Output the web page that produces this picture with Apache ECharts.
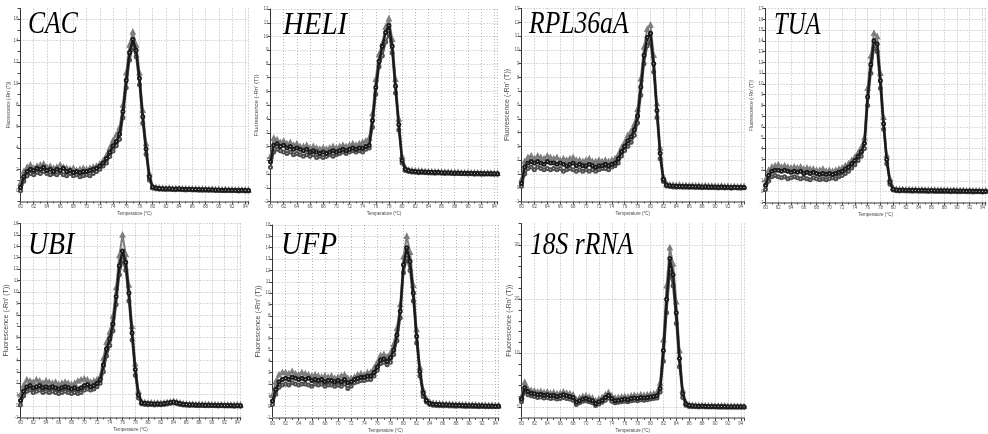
<!DOCTYPE html>
<html>
<head>
<meta charset="utf-8">
<script src="https://cdn.jsdelivr.net/npm/echarts@6/dist/echarts.min.js"></script>
<style>
  html, body { margin: 0; padding: 0; background: #fff; }
  #chart { width: 988px; height: 434px; }
</style>
</head>
<body>
<div id="chart"></div>
<script>
// Melt-curve derivative readings, three replicate wells per gene, sampled every 0.5 °C
const temps = [
  60, 60.5, 61, 61.5, 62, 62.5, 63, 63.5, 64, 64.5,
  65, 65.5, 66, 66.5, 67, 67.5, 68, 68.5, 69, 69.5,
  70, 70.5, 71, 71.5, 72, 72.5, 73, 73.5, 74, 74.5,
  75, 75.5, 76, 76.5, 77, 77.5, 78, 78.5, 79, 79.5,
  80, 80.5, 81, 81.5, 82, 82.5, 83, 83.5, 84, 84.5,
  85, 85.5, 86, 86.5, 87, 87.5, 88, 88.5, 89, 89.5,
  90, 90.5, 91, 91.5, 92, 92.5, 93, 93.5, 94, 94.5
];

const cacMid = [
  0.3, 1.3, 1.8, 2.0, 1.9, 2.1, 2.0, 2.2, 1.9, 2.0,
  1.8, 2.0, 1.9, 2.1, 1.8, 1.9, 1.7, 1.8, 1.7, 1.8,
  1.8, 1.9, 2.0, 2.1, 2.3, 2.6, 3.0, 3.6, 4.2, 4.6,
  5.3, 7.4, 10.3, 12.9, 14.1, 13.1, 10.5, 6.9, 3.9, 1.3,
  0.35, 0.25, 0.22, 0.2, 0.18, 0.2, 0.17, 0.16, 0.18, 0.15,
  0.14, 0.15, 0.12, 0.13, 0.12, 0.1, 0.11, 0.09, 0.1, 0.08,
  0.07, 0.06, 0.08, 0.05, 0.04, 0.05, 0.03, 0.04, 0.02, 0.03
];
const cacHigh = [
  0.7, 1.8, 2.2, 2.4, 2.1, 2.3, 2.4, 2.5, 2.2, 2.3,
  2.1, 2.2, 2.4, 2.2, 2.1, 2.0, 2.1, 1.9, 2.0, 2.1,
  2.0, 2.1, 2.2, 2.3, 2.5, 2.8, 3.3, 4.0, 4.7, 5.2,
  5.9, 8.0, 11.0, 13.6, 14.8, 13.6, 11.0, 7.5, 4.4, 1.6,
  0.4, 0.3, 0.26, 0.24, 0.22, 0.23, 0.2, 0.21, 0.19, 0.2,
  0.18, 0.17, 0.18, 0.16, 0.15, 0.16, 0.14, 0.13, 0.14, 0.12,
  0.12, 0.1, 0.11, 0.09, 0.1, 0.08, 0.09, 0.07, 0.08, 0.07
];
const cacLow = [
  0.0, 0.9, 1.4, 1.6, 1.5, 1.7, 1.6, 1.8, 1.6, 1.5,
  1.6, 1.5, 1.7, 1.5, 1.4, 1.6, 1.4, 1.5, 1.3, 1.4,
  1.5, 1.4, 1.6, 1.8, 2.0, 2.3, 2.6, 3.2, 3.7, 4.2,
  4.8, 6.8, 9.6, 12.2, 13.4, 12.5, 9.9, 6.3, 3.4, 1.0,
  0.25, 0.18, 0.15, 0.14, 0.12, 0.14, 0.11, 0.1, 0.12, 0.09,
  0.08, 0.09, 0.07, 0.08, 0.06, 0.05, 0.06, 0.04, 0.05, 0.03,
  0.02, 0.03, 0.01, 0.02, 0.0, 0.01, -0.01, 0.0, -0.02, -0.01
];

const heliMid = [
  0.9, 2.1, 2.2, 2.0, 2.1, 1.9, 2.0, 1.8, 1.9, 1.8,
  1.7, 1.8, 1.6, 1.7, 1.6, 1.5, 1.6, 1.5, 1.6, 1.7,
  1.6, 1.7, 1.8, 1.7, 1.8, 1.9, 1.8, 1.9, 1.9, 2.0,
  2.1, 3.9, 6.3, 8.2, 9.3, 10.3, 10.8, 9.3, 6.4, 3.6,
  1.0, 0.35, 0.25, 0.2, 0.18, 0.15, 0.16, 0.14, 0.13, 0.12,
  0.11, 0.12, 0.1, 0.09, 0.1, 0.08, 0.07, 0.08, 0.06, 0.05,
  0.06, 0.05, 0.04, 0.05, 0.03, 0.04, 0.02, 0.03, 0.02, 0.01
];
const heliHigh = [
  1.3, 2.6, 2.5, 2.3, 2.4, 2.2, 2.3, 2.1, 2.2, 2.0,
  2.0, 2.1, 1.9, 2.0, 1.9, 1.8, 1.9, 1.8, 1.9, 2.0,
  1.9, 2.0, 2.1, 2.0, 2.1, 2.2, 2.1, 2.2, 2.3, 2.4,
  2.6, 4.4, 6.9, 8.7, 9.5, 10.7, 11.3, 9.8, 6.9, 4.0,
  1.3, 0.45, 0.3, 0.26, 0.24, 0.22, 0.2, 0.19, 0.18, 0.17,
  0.16, 0.15, 0.14, 0.14, 0.13, 0.12, 0.11, 0.12, 0.1, 0.09,
  0.1, 0.08, 0.09, 0.07, 0.08, 0.06, 0.07, 0.05, 0.06, 0.05
];
const heliLow = [
  0.5, 1.6, 1.8, 1.7, 1.6, 1.5, 1.6, 1.4, 1.5, 1.4,
  1.3, 1.4, 1.3, 1.4, 1.2, 1.3, 1.2, 1.3, 1.4, 1.3,
  1.4, 1.5, 1.6, 1.5, 1.6, 1.7, 1.6, 1.7, 1.6, 1.8,
  1.9, 3.4, 5.8, 7.8, 8.6, 9.6, 10.2, 8.8, 5.9, 3.2,
  0.8, 0.25, 0.18, 0.14, 0.12, 0.1, 0.11, 0.09, 0.08, 0.07,
  0.06, 0.07, 0.05, 0.04, 0.05, 0.03, 0.02, 0.03, 0.01, 0.02,
  0.0, 0.01, -0.01, 0.0, -0.02, -0.01, 0.0, -0.02, -0.01, -0.02
];

const rplMid = [
  0.3, 1.5, 1.8, 1.9, 1.8, 1.9, 1.8, 1.7, 1.9, 1.8,
  1.8, 1.7, 1.8, 1.7, 1.6, 1.7, 1.8, 1.6, 1.7, 1.6,
  1.6, 1.7, 1.6, 1.5, 1.6, 1.6, 1.7, 1.6, 1.7, 1.8,
  2.1, 2.6, 3.0, 3.4, 3.7, 4.2, 5.2, 7.3, 9.6, 10.9,
  11.2, 9.0, 5.6, 2.5, 0.6, 0.2, 0.15, 0.12, 0.1, 0.11,
  0.09, 0.1, 0.08, 0.09, 0.07, 0.08, 0.06, 0.07, 0.05, 0.06,
  0.05, 0.04, 0.05, 0.03, 0.04, 0.02, 0.03, 0.02, 0.03, 0.02
];
const rplHigh = [
  0.6, 1.9, 2.2, 2.3, 2.1, 2.3, 2.2, 2.1, 2.3, 2.2,
  2.1, 2.2, 2.0, 2.1, 2.0, 2.1, 2.2, 2.0, 2.0, 1.9,
  2.0, 2.1, 1.9, 1.9, 2.0, 1.9, 2.0, 1.9, 2.0, 2.1,
  2.4, 2.9, 3.3, 3.8, 4.1, 4.6, 5.7, 7.9, 10.2, 11.5,
  11.8, 9.6, 6.1, 2.9, 0.8, 0.3, 0.22, 0.2, 0.18, 0.19,
  0.16, 0.17, 0.15, 0.16, 0.14, 0.15, 0.13, 0.14, 0.12, 0.13,
  0.11, 0.1, 0.12, 0.09, 0.1, 0.08, 0.09, 0.07, 0.08, 0.09
];
const rplLow = [
  0.1, 1.0, 1.4, 1.5, 1.3, 1.5, 1.4, 1.3, 1.4, 1.3,
  1.4, 1.3, 1.4, 1.2, 1.3, 1.4, 1.3, 1.2, 1.3, 1.2,
  1.3, 1.2, 1.3, 1.2, 1.3, 1.4, 1.4, 1.3, 1.5, 1.6,
  1.8, 2.3, 2.7, 3.0, 3.3, 3.8, 4.7, 6.7, 9.0, 10.3,
  10.6, 8.4, 5.1, 2.1, 0.45, 0.12, 0.08, 0.05, 0.04, 0.05,
  0.03, 0.04, 0.02, 0.03, 0.01, 0.02, 0.0, 0.01, -0.01, 0.0,
  -0.01, -0.02, 0.0, -0.02, -0.01, -0.03, -0.01, -0.02, -0.03, -0.01
];

const tuaMid = [
  0.6, 1.5, 1.9, 2.0, 2.0, 1.9, 2.0, 1.9, 1.8, 1.9,
  1.8, 1.9, 1.7, 1.8, 1.7, 1.8, 1.7, 1.6, 1.7, 1.6,
  1.7, 1.6, 1.7, 1.8, 1.9, 2.1, 2.3, 2.6, 2.9, 3.3,
  3.7, 4.5, 8.8, 11.8, 14.0, 13.7, 10.3, 6.3, 3.0, 0.9,
  0.22, 0.15, 0.14, 0.15, 0.13, 0.14, 0.12, 0.13, 0.12, 0.11,
  0.12, 0.1, 0.11, 0.1, 0.09, 0.1, 0.08, 0.09, 0.07, 0.08,
  0.07, 0.06, 0.07, 0.05, 0.06, 0.04, 0.05, 0.04, 0.03, 0.04
];
const tuaHigh = [
  1.1, 2.0, 2.3, 2.4, 2.5, 2.3, 2.4, 2.3, 2.2, 2.3,
  2.2, 2.3, 2.1, 2.2, 2.1, 2.1, 2.0, 2.0, 2.1, 1.9,
  2.0, 1.9, 2.0, 2.1, 2.2, 2.4, 2.6, 2.9, 3.2, 3.6,
  4.1, 5.0, 9.6, 12.6, 14.7, 14.4, 11.0, 6.9, 3.4, 1.2,
  0.35, 0.22, 0.2, 0.21, 0.19, 0.2, 0.18, 0.19, 0.17, 0.18,
  0.16, 0.17, 0.15, 0.16, 0.14, 0.15, 0.13, 0.14, 0.12, 0.13,
  0.12, 0.11, 0.12, 0.1, 0.11, 0.09, 0.1, 0.09, 0.08, 0.09
];
const tuaLow = [
  0.2, 1.0, 1.4, 1.5, 1.4, 1.3, 1.4, 1.2, 1.3, 1.4,
  1.3, 1.2, 1.3, 1.2, 1.1, 1.3, 1.2, 1.1, 1.2, 1.1,
  1.2, 1.3, 1.2, 1.4, 1.5, 1.7, 1.9, 2.2, 2.5, 2.9,
  3.3, 4.0, 8.0, 11.0, 13.3, 13.0, 9.6, 5.8, 2.6, 0.7,
  0.15, 0.08, 0.07, 0.08, 0.06, 0.07, 0.05, 0.06, 0.04, 0.05,
  0.04, 0.03, 0.04, 0.02, 0.03, 0.02, 0.01, 0.02, 0.0, 0.01,
  0.0, -0.01, 0.01, -0.01, 0.0, -0.02, -0.01, 0.0, -0.02, -0.01
];

const ubiMid = [
  0.5, 1.3, 1.7, 1.8, 1.6, 1.7, 1.8, 1.6, 1.7, 1.6,
  1.7, 1.6, 1.5, 1.6, 1.7, 1.6, 1.5, 1.6, 1.5, 1.6,
  1.8, 1.9, 1.7, 1.8, 2.0, 2.3, 3.6, 5.0, 5.9, 7.2,
  9.6, 12.3, 13.6, 12.6, 9.9, 6.4, 3.2, 1.0, 0.3, 0.25,
  0.22, 0.2, 0.18, 0.2, 0.19, 0.22, 0.26, 0.32, 0.36, 0.3,
  0.22, 0.16, 0.13, 0.11, 0.12, 0.1, 0.09, 0.1, 0.08, 0.09,
  0.07, 0.08, 0.06, 0.07, 0.05, 0.06, 0.05, 0.04, 0.05, 0.04
];
const ubiHigh = [
  1.0, 1.8, 2.3, 2.2, 2.1, 2.3, 2.2, 2.0, 2.2, 2.1,
  2.0, 2.1, 1.9, 2.0, 2.1, 2.0, 1.9, 2.0, 2.2, 2.3,
  2.4, 2.3, 2.1, 2.2, 2.3, 2.6, 4.2, 5.6, 6.5, 7.9,
  10.4, 13.2, 15.0, 13.3, 10.6, 7.0, 3.7, 1.3, 0.4, 0.32,
  0.28, 0.3, 0.26, 0.27, 0.25, 0.28, 0.31, 0.36, 0.4, 0.35,
  0.27, 0.21, 0.18, 0.16, 0.17, 0.15, 0.14, 0.15, 0.13, 0.14,
  0.12, 0.13, 0.11, 0.12, 0.1, 0.11, 0.1, 0.09, 0.1, 0.09
];
const ubiLow = [
  0.1, 0.9, 1.3, 1.4, 1.2, 1.3, 1.4, 1.2, 1.3, 1.2,
  1.3, 1.2, 1.1, 1.2, 1.3, 1.2, 1.1, 1.2, 1.1, 1.2,
  1.4, 1.5, 1.4, 1.5, 1.7, 2.0, 3.0, 4.4, 5.3, 6.6,
  8.9, 11.5, 12.8, 11.9, 9.2, 5.8, 2.7, 0.7, 0.2, 0.15,
  0.12, 0.14, 0.1, 0.12, 0.11, 0.14, 0.19, 0.24, 0.28, 0.22,
  0.15, 0.1, 0.08, 0.06, 0.07, 0.05, 0.04, 0.05, 0.03, 0.04,
  0.02, 0.03, 0.01, 0.02, 0.0, 0.01, 0.0, -0.01, 0.0, -0.01
];

const ufpMid = [
  0.5, 1.5, 2.2, 2.4, 2.5, 2.4, 2.6, 2.5, 2.4, 2.5,
  2.4, 2.5, 2.3, 2.4, 2.3, 2.4, 2.2, 2.3, 2.3, 2.2,
  2.3, 2.2, 2.4, 2.1, 2.2, 2.4, 2.5, 2.6, 2.6, 2.7,
  2.7, 3.0, 3.5, 4.1, 4.2, 4.0, 4.3, 5.0, 6.3, 8.4,
  12.5, 14.0, 12.8, 10.0, 6.2, 3.1, 1.2, 0.55, 0.3, 0.22,
  0.2, 0.18, 0.16, 0.17, 0.15, 0.14, 0.13, 0.12, 0.11, 0.1,
  0.09, 0.1, 0.08, 0.07, 0.08, 0.06, 0.05, 0.06, 0.04, 0.05
];
const ufpHigh = [
  1.0, 2.2, 2.8, 3.0, 3.0, 2.9, 3.1, 2.9, 2.8, 3.0,
  2.9, 2.8, 2.7, 2.8, 2.7, 2.6, 2.7, 2.6, 2.7, 2.5,
  2.6, 2.7, 2.8, 2.5, 2.5, 2.6, 2.8, 2.9, 2.8, 3.0,
  3.0, 3.4, 3.9, 4.5, 4.6, 4.4, 4.7, 5.5, 6.9, 9.0,
  13.2, 15.0, 13.6, 10.7, 6.8, 3.5, 1.5, 0.7, 0.4, 0.3,
  0.28, 0.25, 0.24, 0.22, 0.21, 0.2, 0.18, 0.19, 0.16, 0.17,
  0.15, 0.14, 0.15, 0.13, 0.12, 0.13, 0.11, 0.12, 0.1, 0.11
];
const ufpLow = [
  0.2, 1.1, 1.7, 1.9, 2.0, 1.9, 2.1, 2.0, 1.9, 2.0,
  2.0, 1.9, 1.8, 2.0, 1.9, 2.0, 1.8, 1.9, 1.9, 1.8,
  1.9, 1.8, 2.0, 1.6, 1.8, 2.1, 2.2, 2.3, 2.3, 2.4,
  2.4, 2.7, 3.2, 3.8, 3.9, 3.7, 3.9, 4.6, 5.8, 7.8,
  11.8, 13.1, 12.0, 9.3, 5.6, 2.7, 0.9, 0.4, 0.2, 0.12,
  0.1, 0.09, 0.07, 0.08, 0.06, 0.05, 0.04, 0.05, 0.03, 0.02,
  0.03, 0.01, 0.02, 0.0, 0.01, -0.01, 0.0, -0.02, -0.01, -0.02
];

const rrnaMid = [
  1.5, 3.6, 2.9, 2.6, 2.5, 2.3, 2.4, 2.2, 2.3, 2.1,
  2.2, 2.0, 2.1, 2.3, 2.1, 2.0, 1.8, 0.9, 1.2, 1.5,
  1.6, 1.4, 1.2, 0.7, 1.0, 1.3, 1.8, 2.2, 1.6, 1.2,
  1.3, 1.4, 1.5, 1.4, 1.6, 1.7, 1.6, 1.8, 1.7, 1.8,
  1.9, 2.0, 2.1, 3.5, 10.5, 20.0, 27.5, 24.5, 17.5, 9.0,
  2.5, 0.6, 0.3, 0.25, 0.2, 0.18, 0.2, 0.16, 0.15, 0.14,
  0.13, 0.12, 0.11, 0.12, 0.1, 0.09, 0.1, 0.08, 0.09, 0.07
];
const rrnaHigh = [
  2.0, 4.6, 3.4, 3.1, 3.0, 2.8, 2.9, 2.7, 2.8, 2.6,
  2.7, 2.5, 2.6, 2.8, 2.6, 2.5, 2.3, 1.4, 1.7, 2.0,
  2.1, 1.9, 1.7, 1.2, 1.5, 1.8, 2.3, 2.7, 2.1, 1.7,
  1.8, 1.9, 2.0, 1.9, 2.1, 2.2, 2.1, 2.3, 2.2, 2.3,
  2.4, 2.5, 2.7, 4.5, 12.5, 22.5, 29.5, 26.5, 19.5, 10.5,
  3.2, 0.9, 0.45, 0.38, 0.33, 0.3, 0.31, 0.28, 0.27, 0.26,
  0.24, 0.23, 0.22, 0.23, 0.2, 0.19, 0.2, 0.18, 0.19, 0.17
];
const rrnaLow = [
  1.0, 2.8, 2.3, 2.1, 2.0, 1.8, 1.9, 1.7, 1.8, 1.6,
  1.7, 1.5, 1.6, 1.8, 1.6, 1.5, 1.3, 0.5, 0.8, 1.1,
  1.2, 1.0, 0.8, 0.3, 0.6, 0.9, 1.3, 1.7, 1.1, 0.8,
  0.9, 1.0, 1.1, 1.0, 1.2, 1.3, 1.2, 1.4, 1.3, 1.4,
  1.5, 1.6, 1.7, 2.8, 8.5, 17.5, 25.0, 22.5, 15.5, 7.5,
  1.8, 0.35, 0.15, 0.1, 0.06, 0.05, 0.07, 0.04, 0.03, 0.02,
  0.02, 0.01, 0.0, 0.01, -0.01, -0.02, 0.0, -0.02, -0.01, -0.03
];

// Tick labels that differ from the per-unit default
const cacYLabels = [0, 2, 4, 6, 8, 10, 12, 14, 16];
const rrnaYLabels = [0, 10, 20, 30];

const geneNames = ['CAC', 'HELI', 'RPL36aA', 'TUA', 'UBI', 'UFP', '18S rRNA'];
const xName = 'Temperature (°C)';
const yName = "Fluorescence (-Rn' (T))";

// Panel frames and axis ranges
const panels = [
  { name: geneNames[0], reps: [cacHigh, cacLow, cacMid], yMin: -1, yMax: 17, yStep: 1, yLabels: cacYLabels,
    box: { left: 20.5, top: 8.5, width: 228, height: 193 }, yNameSize: 4.5, titleX: 28, titleY: 25, titleScale: 0.8 },
  { name: geneNames[1], reps: [heliHigh, heliLow, heliMid], yMin: -2, yMax: 12, yStep: 1, yLabels: null,
    box: { left: 270.5, top: 9, width: 227, height: 192.5 }, yNameSize: 6, titleX: 283, titleY: 25.5, titleScale: 0.9 },
  { name: geneNames[2], reps: [rplHigh, rplLow, rplMid], yMin: -1, yMax: 13, yStep: 1, yLabels: null,
    box: { left: 521.5, top: 8.5, width: 222.5, height: 193 }, yNameSize: 7, titleX: 529, titleY: 25, titleScale: 0.8 },
  { name: geneNames[3], reps: [tuaHigh, tuaLow, tuaMid], yMin: -1, yMax: 17, yStep: 1, yLabels: null,
    box: { left: 765.5, top: 8.5, width: 222, height: 194 }, yNameSize: 5, titleX: 774, titleY: 25.5, titleScale: 0.77 },
  { name: geneNames[4], reps: [ubiHigh, ubiLow, ubiMid], yMin: -1, yMax: 16, yStep: 1, yLabels: null,
    box: { left: 20.5, top: 223.5, width: 220, height: 194 }, yNameSize: 7, titleX: 28, titleY: 245.5, titleScale: 0.87 },
  { name: geneNames[5], reps: [ufpHigh, ufpLow, ufpMid], yMin: -1, yMax: 16, yStep: 1, yLabels: null,
    box: { left: 272.5, top: 225, width: 226, height: 194 }, yNameSize: 7, titleX: 281, titleY: 245.5, titleScale: 0.9 },
  { name: geneNames[6], reps: [rrnaHigh, rrnaLow, rrnaMid], yMin: -2, yMax: 34, yStep: 2, yLabels: rrnaYLabels,
    box: { left: 521.5, top: 223.5, width: 222.5, height: 195.5 }, yNameSize: 7, titleX: 530, titleY: 245.5, titleScale: 0.8 }
];

// Replicate well styles: light upper trace, mid-grey lower trace, dark central trace
const repStyles = [
  { color: '#7d7d7d', symbol: 'emptyTriangle', size: 3.5, width: 2 },
  { color: '#4e4e4e', symbol: 'emptyCircle', size: 3, width: 2 },
  { color: '#1a1a1a', symbol: 'emptyCircle', size: 3, width: 2.4 }
];

const gridLine = { color: '#b4b4b4', width: 1, type: [1, 2] };
const labelFont = { fontSize: 4.5, color: '#555', fontFamily: 'Liberation Sans, Arial, sans-serif' };

const grids = [], xAxes = [], yAxes = [], series = [], graphics = [];

panels.forEach((p, i) => {
  grids.push(Object.assign({ containLabel: false }, p.box));

  xAxes.push({
    gridIndex: i, type: 'value', min: 60, max: 94.5, interval: 2,
    name: xName, nameLocation: 'middle', nameGap: 10,
    nameTextStyle: { fontSize: 4.5, color: '#444', fontFamily: 'Liberation Sans, Arial, sans-serif' },
    axisLine: { show: true, onZero: false, lineStyle: { color: '#9a9a9a', width: 2 } },
    axisTick: { show: true, length: 3, lineStyle: { color: '#444', width: 1 } },
    minorTick: { show: true, splitNumber: 2, length: 2, lineStyle: { color: '#555' } },
    axisLabel: Object.assign({ margin: 3, showMaxLabel: false, formatter: v => (v % 2 === 0 ? String(v) : '') }, labelFont),
    splitLine: { show: true, lineStyle: gridLine }
  });

  const tickAxisIndex = yAxes.length;
  yAxes.push({
    gridIndex: i, type: 'value', position: 'left', min: p.yMin, max: p.yMax, interval: p.yStep,
    name: yName, nameLocation: 'middle', nameGap: 9, nameRotate: 90,
    nameTextStyle: { fontSize: p.yNameSize, color: '#444', fontFamily: 'Liberation Sans, Arial, sans-serif' },
    axisLine: { show: true, onZero: false, lineStyle: { color: '#333', width: 1 } },
    axisTick: { show: true, length: 3, lineStyle: { color: '#444', width: 1 } },
    axisLabel: Object.assign({ show: !p.yLabels, margin: 2 }, labelFont),
    splitLine: { show: !p.yLabels, lineStyle: gridLine }
  });
  if (p.yLabels) {
    yAxes.push({
      gridIndex: i, type: 'value', position: 'left', min: p.yMin, max: p.yMax,
      axisLine: { show: false },
      axisTick: { show: false, customValues: p.yLabels },
      axisLabel: Object.assign({ show: true, margin: 2, customValues: p.yLabels }, labelFont),
      splitLine: { show: true, lineStyle: gridLine }
    });
  }

  p.reps.forEach((vals, r) => {
    const st = repStyles[r];
    series.push({
      type: 'line', xAxisIndex: i, yAxisIndex: tickAxisIndex,
      data: temps.map((t, k) => [t, vals[k]]),
      symbol: st.symbol, symbolSize: st.size, showSymbol: true,
      lineStyle: { color: st.color, width: st.width },
      itemStyle: { color: st.color, borderColor: st.color, borderWidth: 1 },
      silent: true, z: 2 + r
    });
  });

  graphics.push({
    type: 'text', x: p.titleX, y: p.titleY, scaleX: p.titleScale, z: 100,
    style: {
      text: p.name, fontSize: 32, fontStyle: 'italic',
      fontFamily: 'Liberation Serif, "Times New Roman", serif',
      fill: '#000', textAlign: 'left', textVerticalAlign: 'middle',
      align: 'left', verticalAlign: 'middle'
    }
  });
});

const chart = echarts.init(document.getElementById('chart'), null, { renderer: 'canvas' });
chart.setOption({
  backgroundColor: '#ffffff',
  animation: false,
  grid: grids,
  xAxis: xAxes,
  yAxis: yAxes,
  series: series,
  graphic: graphics
});
</script>
</body>
</html>
